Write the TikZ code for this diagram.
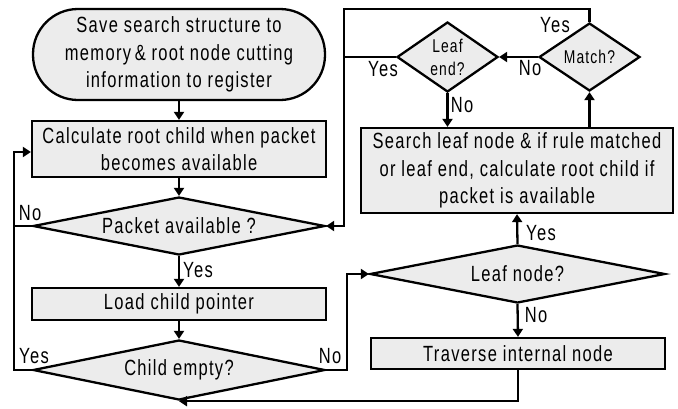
\documentclass[tikz,border=0pt]{standalone}
\usepackage{fontspec}
\setmainfont{Liberation Sans}[FakeStretch=0.75,LetterSpace=6]
\usetikzlibrary{shapes.geometric,arrows.meta}
\definecolor{boxfill}{RGB}{236,236,236}
\begin{document}
\begin{tikzpicture}[x=1pt,y=-1pt,line width=2.3pt,
  >={Triangle[length=8pt,width=10pt]},
  base/.style={draw,fill=boxfill,inner sep=0pt,align=center,
    font=\fontsize{22}{27.5}\selectfont},
  procbox/.style={base,rectangle},
  startbox/.style={base,rectangle,rounded corners=45pt},
  decision/.style={base,diamond},
  smalldec/.style={base,diamond,font=\fontsize{18.5}{23}\selectfont},
  lbl/.style={inner sep=0pt,font=\fontsize{22}{26}\selectfont}]
\useasboundingbox (0,0) rectangle (678,408);

% nodes
\node[startbox,minimum width=292pt,minimum height=91pt] (start) at (179,54.5)
  {Save search structure to\\memory\,\&\ root node cutting\\information to register};
\node[procbox,minimum width=294pt,minimum height=56pt] (calc) at (179,149)
  {Calculate root child when packet\\becomes available};
\node[decision,shape aspect=5,minimum width=292pt,minimum height=58pt] (packet) at (179,226)
  {Packet available ?};
\node[procbox,minimum width=294pt,minimum height=32pt] (load) at (179,304)
  {Load child pointer};
\node[decision,shape aspect=5,minimum width=292pt,minimum height=60pt] (child) at (179,370)
  {Child empty?};
\node[decision,shape aspect=5,minimum width=295pt,minimum height=58pt] (leafnode) at (517.5,274)
  {Leaf node?};
\node[procbox,minimum width=294pt,minimum height=31pt] (traverse) at (518,353.5)
  {Traverse internal node};
\node[procbox,minimum width=312pt,minimum height=85pt] (search) at (517,170.5)
  {Search leaf node \& if rule matched\\or leaf end, calculate root child if\\packet is available};
\node[smalldec,shape aspect=1.44,minimum width=101pt,minimum height=70pt] (leafend) at (447.5,57)
  {Leaf\\end?};
\node[smalldec,shape aspect=1.5,minimum width=101pt,minimum height=68pt] (match) at (589.5,57)
  {Match?};

% helper coordinates for bends
\coordinate (lx) at (14,300);
\coordinate (rx) at (347,300);
\coordinate (tx) at (344,9);

% connectors
\draw[->] (start.south) -- (calc.north);
\draw[->] (calc.south) -- (packet.north);
\draw[->] (packet.south) -- (load.north);
\draw[->] (load.south) -- (child.north);
\draw[->] (packet.west) -- (packet.west -| lx) |- ([yshift=-3pt]calc.west);
\draw (child.west) -- (child.west -| lx) -- (packet.west -| lx);
\draw[->] (child.east) -- (child.east -| rx) |- (leafnode.west);
\draw[->] (leafnode.south) -- (traverse.north);
\draw[->] (traverse.south) |- (child.south);
\draw[->] (leafnode.north) -- (search.south);
\draw[->] (match.south |- search.north) -- (match.south);
\draw[->] (match.west) -- (leafend.east);
\draw[->] (leafend.south) -- (leafend.south |- search.north);
\draw[->] (match.north) |- (tx) |- (packet.east);
\draw (leafend.west) -- (leafend.west -| tx);

% labels
\node[lbl] (l1) at (30,213) {No};
\node[lbl] (l2) at (34,356) {Yes};
\node[lbl] (l3) at (198,270) {Yes};
\node[lbl] (l4) at (330,356) {No};
\node[lbl] (l5) at (555,25) {Yes};
\node[lbl] (l6) at (530,68) {No};
\node[lbl] (l7) at (383,69) {Yes};
\node[lbl] (l8) at (462,105) {No};
\node[lbl] (l9) at (541,233) {Yes};
\node[lbl] (l10) at (536,315) {No};
\end{tikzpicture}
\end{document}
